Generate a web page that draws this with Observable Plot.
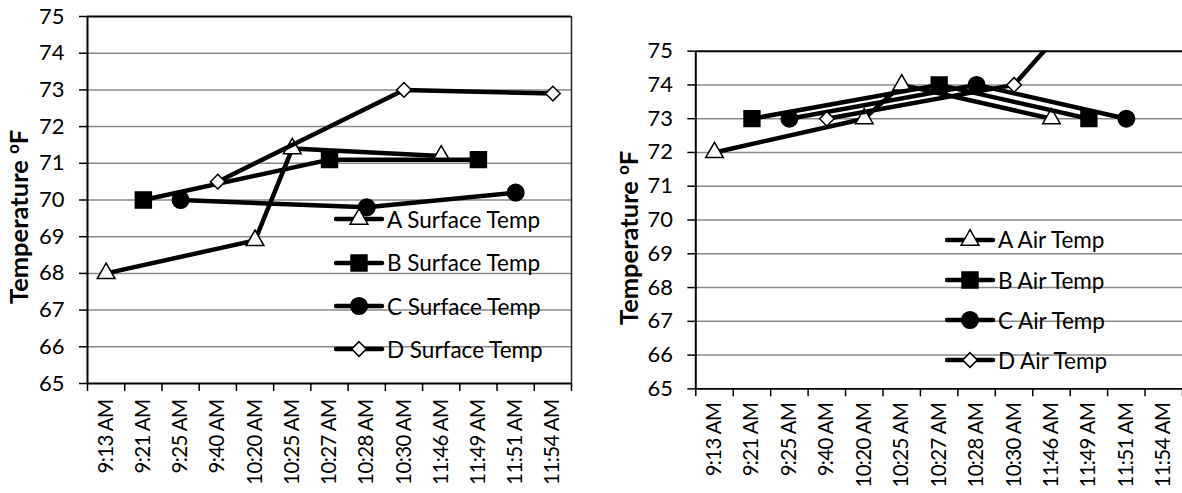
<!DOCTYPE html>
<html>
<head>
<meta charset="utf-8">
<script src="https://cdn.jsdelivr.net/npm/d3@7"></script>
<script src="https://cdn.jsdelivr.net/npm/@observablehq/plot@0.6"></script>
<style>
  html, body { margin: 0; padding: 0; background: #fff; overflow: hidden; }
  body { width: 1182px; height: 493px; position: relative; font-family: Lato, "Open Sans", sans-serif; color: #000; }
  .panel { position: absolute; top: 0; }
  .panel g[aria-label="x-axis tick label"] text { letter-spacing: -0.6px; }
  .ytitle { position: absolute; font-weight: bold; font-size: 25.5px; white-space: nowrap;
            transform: translate(-50%, -50%) rotate(-90deg); }
  .ytitle sup { font-size: 0.65em; }
  .legend { position: absolute; font-size: 22.5px; }
  .legend .row { position: absolute; display: flex; align-items: center; height: 26px; white-space: nowrap; }
  .legend svg { display: block; }
</style>
</head>
<body>
<div id="left" class="panel" style="left:0px"></div>
<div id="right" class="panel" style="left:590px"></div>
<script>
// Sampling times shown on the category axis
const times = ["9:13 AM", "9:21 AM", "9:25 AM", "9:40 AM", "10:20 AM", "10:25 AM", "10:27 AM",
               "10:28 AM", "10:30 AM", "11:46 AM", "11:49 AM", "11:51 AM", "11:54 AM"];

// When each location was measured
const aTimes = ["9:13 AM", "10:20 AM", "10:25 AM", "11:46 AM"];
const bTimes = ["9:21 AM", "10:27 AM", "11:49 AM"];
const cTimes = ["9:25 AM", "10:28 AM", "11:51 AM"];
const dTimes = ["9:40 AM", "10:30 AM", "11:54 AM"];

// Surface temperatures (°F)
const surfaceNames = ["A Surface Temp", "B Surface Temp", "C Surface Temp", "D Surface Temp"];
const aSurface = [68, 68.9, 71.4, 71.2];
const bSurface = [70, 71.1, 71.1];
const cSurface = [70, 69.8, 70.2];
const dSurface = [70.5, 73, 72.9];

// Air temperatures (°F)
const airNames = ["A Air Temp", "B Air Temp", "C Air Temp", "D Air Temp"];
const aAir = [72, 73, 74, 73];
const bAir = [73, 74, 73];
const cAir = [73, 74, 73];
const dAir = [73, 74, 79];

// Value axis
const yTicks = [65, 66, 67, 68, 69, 70, 71, 72, 73, 74, 75];

// Marker look per location
const markerStyles = [
  {symbol: "triangle", r: 6.6, fill: "white"},
  {symbol: "square", r: 9, fill: "black"},
  {symbol: "circle", r: 8.3, fill: "black"},
  {symbol: "diamond2", r: 6.6, fill: "white"}
];

const d3Symbols = {triangle: d3.symbolTriangle, square: d3.symbolSquare, circle: d3.symbolCircle, diamond2: d3.symbolDiamond2};

function rows(ts, vals) {
  return ts.map((t, i) => ({x: times.indexOf(t) + 0.5, y: vals[i]}));
}

function panel({width, marginLeft, marginRight, marginTop, marginBottom, series, rightBorder, labelGap}) {
  const yMin = yTicks[0], yMax = yTicks[yTicks.length - 1];
  const marks = [
    Plot.ruleY(yTicks.slice(1, -1), {stroke: "#8a8a8a", strokeWidth: 1.5}),
    Plot.axisY({ticks: yTicks, tickSize: 8, tickPadding: 15, strokeWidth: 1.5, label: null, fontSize: 22}),
    Plot.axisX({ticks: d3.range(times.length + 1), tickSize: 8, strokeWidth: 1.5, tickFormat: () => "", label: null}),
    Plot.axisX({ticks: times.map((t, i) => i + 0.5), tickSize: 0, tickPadding: labelGap, tickRotate: -90,
                tickFormat: v => times[Math.floor(v)], label: null, fontSize: 20.5}),
    Plot.ruleY([yMax], {stroke: "black", strokeWidth: 2}),
    Plot.ruleY([yMin], {stroke: "black", strokeWidth: 2}),
    Plot.ruleX([0], {stroke: "black", strokeWidth: 2})
  ];
  if (rightBorder) marks.push(Plot.ruleX([times.length], {stroke: "#222", strokeWidth: 1.5}));
  series.forEach((s, i) => {
    const st = markerStyles[i];
    marks.push(Plot.line(s, {x: "x", y: "y", stroke: "black", strokeWidth: 4.5, clip: true}));
    marks.push(Plot.dot(s, {x: "x", y: "y", symbol: st.symbol, r: st.r, fill: st.fill,
                            stroke: "black", strokeWidth: 1.5, clip: true}));
  });
  return Plot.plot({
    width, height: 493, marginLeft, marginRight, marginTop, marginBottom,
    style: {fontFamily: "Lato, sans-serif", fontSize: "22px", color: "black", background: "white", overflow: "visible"},
    x: {domain: [0, times.length]},
    y: {domain: [yMin, yMax]},
    marks
  });
}

const leftSeries = [rows(aTimes, aSurface), rows(bTimes, bSurface), rows(cTimes, cSurface), rows(dTimes, dSurface)];
const rightSeries = [rows(aTimes, aAir), rows(bTimes, bAir), rows(cTimes, cAir), rows(dTimes, dAir)];

document.getElementById("left").append(panel({
  width: 590, marginLeft: 87, marginRight: 19, marginTop: 16, marginBottom: 110,
  series: leftSeries, rightBorder: true, labelGap: 16
}));
document.getElementById("right").append(panel({
  width: 596, marginLeft: 106, marginRight: 0, marginTop: 51, marginBottom: 102,
  series: rightSeries, rightBorder: false, labelGap: 14
}));

// Axis titles
function yTitle(cx, cy) {
  const el = document.createElement("div");
  el.className = "ytitle";
  el.style.left = cx + "px";
  el.style.top = cy + "px";
  el.innerHTML = "Temperature <sup>o</sup>F";
  document.body.append(el);
}
yTitle(18, 217);
yTitle(628, 238);

// Legends inside each plot area
function legend(names, left, tops) {
  const box = document.createElement("div");
  box.className = "legend";
  box.style.left = left + "px";
  box.style.top = "0px";
  names.forEach((name, i) => {
    const st = markerStyles[i];
    const row = document.createElement("div");
    row.className = "row";
    row.style.top = (tops[i] - 13) + "px";
    const svg = d3.create("svg").attr("width", 52).attr("height", 26);
    svg.append("line").attr("x1", 2).attr("x2", 48).attr("y1", 13).attr("y2", 13)
      .attr("stroke", "black").attr("stroke-width", 4.5).attr("stroke-linecap", "round");
    svg.append("path")
      .attr("d", d3.symbol(d3Symbols[st.symbol], Math.PI * st.r * st.r)())
      .attr("transform", "translate(25,13)")
      .attr("fill", st.fill).attr("stroke", "black").attr("stroke-width", 1.5);
    row.append(svg.node());
    const label = document.createElement("span");
    label.textContent = name;
    label.style.marginLeft = "1px";
    row.append(label);
    box.append(row);
  });
  document.body.append(box);
}
legend(surfaceNames, 334, [219, 262.5, 306, 349]);
legend(airNames, 945, [239.5, 280, 320, 360]);
</script>
</body>
</html>
